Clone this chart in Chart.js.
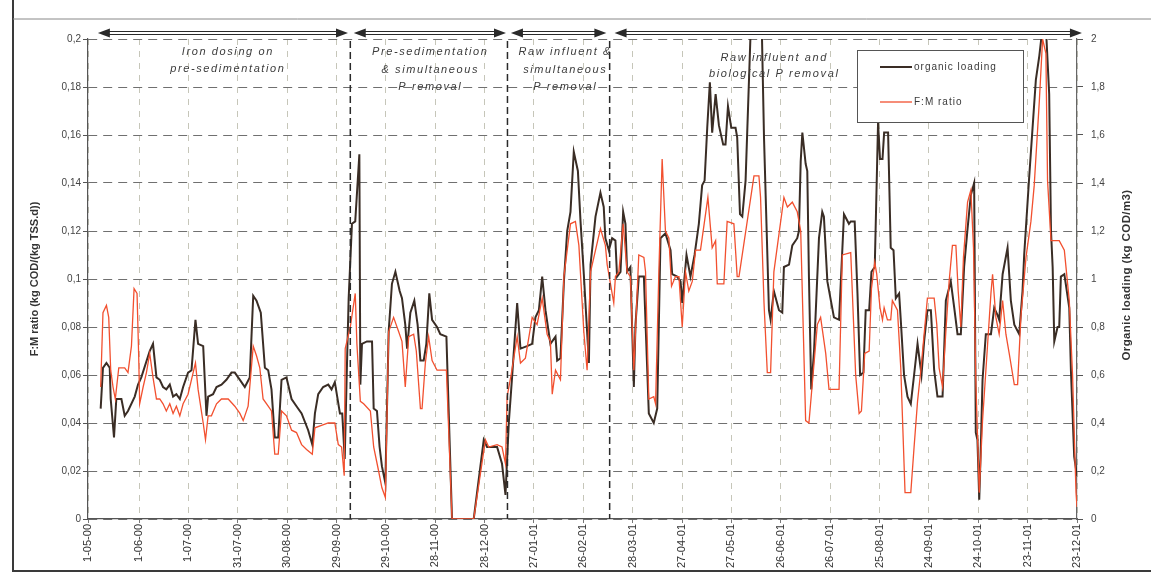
<!DOCTYPE html>
<html><head><meta charset="utf-8">
<script src="https://cdn.jsdelivr.net/npm/chart.js@4.4.1/dist/chart.umd.min.js"></script>
<style>html,body{margin:0;padding:0;background:#fff}canvas{display:block}</style>
</head><body>
<canvas id="c" width="1151" height="579"></canvas>
<script>
// x values are days since 1-05-00
const tickDays = [0,31,61,91,121,151,181,211,241,271,301,331,361,391,421,451,481,511,541,571,601];
const tickLabels = ['1-05-00','1-06-00','1-07-00','31-07-00','30-08-00','29-09-00','29-10-00','28-11-00','28-12-00','27-01-01','26-02-01','28-03-01','27-04-01','27-05-01','26-06-01','26-07-01','25-08-01','24-09-01','24-10-01','23-11-01','23-12-01'];

// organic loading (kg COD/m3), right axis
const olDays = [7.7,9.1,11.2,13.2,13.8,15.8,17.2,20.3,22.3,24.3,28.4,30.4,32.4,37.5,39.5,41.6,43.6,45.6,47.6,49.7,51.7,53.7,55.8,57.8,60.8,62.9,65.3,66.9,70.0,72.0,73.0,76.0,78.1,81.1,84.1,87.2,89.2,92.3,95.3,98.3,100.4,102.4,105.0,107.5,109.5,111.5,113.5,115.6,117.6,120.6,123.7,126.7,129.8,133.8,136.3,137.9,139.9,142.9,146.0,148.0,150.0,153.1,154.5,156.0,157.4,158.4,160.4,162.4,164.9,165.5,166.5,169.5,172.6,173.6,175.6,177.2,178.6,180.7,182.7,184.7,186.8,189.4,190.8,192.8,193.9,195.9,198.3,200.3,202.0,204.0,205.6,207.4,209.1,212.1,214.1,217.8,221.2,234.4,240.5,242.5,248.6,251.6,253.7,255.7,257.7,260.8,262.8,266.8,269.9,271.9,274.0,276.0,278.0,281.0,284.1,285.1,287.1,289.2,291.2,293.2,295.2,297.7,299.3,301.3,303.3,304.4,305.4,308.4,311.4,313.4,314.4,316.5,318.5,320.5,321.5,323.6,325.2,326.6,327.6,329.6,331.7,332.7,334.7,337.8,340.8,343.8,345.9,347.9,350.9,354.0,355.0,358.0,360.1,361.1,363.7,366.1,368.6,371.2,373.2,374.7,376.3,377.9,379.3,381.4,383.4,386.0,387.4,388.9,390.9,393.5,394.5,396.2,397.6,399.6,403.5,409.0,410.8,413.8,414.8,416.8,419.9,421.9,422.9,426.0,428.0,431.0,432.0,433.1,434.1,436.1,437.1,438.1,439.5,441.2,444.2,446.2,447.2,449.3,453.3,456.4,459.4,462.4,463.5,465.9,467.6,469.2,471.2,472.6,474.7,476.1,478.1,480.1,481.3,482.8,483.8,486.2,487.8,489.5,490.9,492.9,493.9,495.9,498.0,500.0,502.0,504.1,506.5,508.1,510.1,512.2,514.2,516.2,519.3,521.3,524.3,526.4,528.4,530.4,532.4,534.5,536.5,538.5,539.5,540.5,541.6,542.6,543.6,545.6,548.7,550.7,552.7,553.7,555.8,558.8,560.8,562.9,565.9,567.9,568.9,572.0,574.0,576.0,578.1,580.1,582.1,584.1,585.2,586.2,587.2,589.2,590.2,591.2,593.3,596.3,597.3,599.3,601.0];
const olValues = [0.46,0.63,0.65,0.63,0.50,0.34,0.50,0.50,0.43,0.45,0.51,0.56,0.59,0.70,0.73,0.59,0.58,0.55,0.54,0.56,0.51,0.52,0.50,0.55,0.61,0.62,0.83,0.73,0.72,0.43,0.51,0.52,0.55,0.56,0.58,0.61,0.61,0.58,0.55,0.59,0.93,0.91,0.86,0.63,0.62,0.54,0.34,0.34,0.58,0.59,0.50,0.47,0.44,0.37,0.31,0.44,0.52,0.55,0.56,0.54,0.57,0.44,0.44,0.25,0.65,0.92,1.23,1.24,1.52,0.56,0.73,0.74,0.74,0.46,0.45,0.30,0.22,0.15,0.78,0.98,1.03,0.95,0.92,0.81,0.71,0.86,0.91,0.81,0.66,0.66,0.73,0.94,0.83,0.80,0.77,0.76,0.0,0.0,0.33,0.30,0.30,0.23,0.10,0.40,0.59,0.90,0.71,0.72,0.73,0.84,0.87,1.01,0.87,0.73,0.76,0.66,0.67,0.99,1.20,1.28,1.53,1.45,1.24,1.02,0.78,0.65,1.06,1.26,1.36,1.30,1.17,1.12,1.17,1.16,1.01,1.03,1.28,1.23,1.03,1.05,0.55,0.81,1.01,1.01,0.44,0.40,0.46,1.17,1.19,1.12,1.02,1.01,0.99,0.90,1.10,1.01,1.10,1.23,1.39,1.41,1.63,1.82,1.61,1.77,1.64,1.56,1.56,1.72,1.63,1.63,1.59,1.27,1.26,1.41,2.20,2.20,1.59,0.87,0.83,0.95,0.87,0.86,1.05,1.06,1.14,1.17,1.20,1.49,1.61,1.48,1.45,1.01,0.54,0.70,1.17,1.28,1.26,0.99,0.84,0.83,1.27,1.23,1.24,1.24,0.94,0.60,0.61,0.87,0.87,1.03,1.05,1.65,1.50,1.50,1.61,1.61,1.13,1.12,0.92,0.94,0.83,0.60,0.51,0.48,0.60,0.73,0.60,0.74,0.87,0.87,0.62,0.51,0.51,0.91,0.99,0.88,0.77,0.77,1.05,1.21,1.35,1.40,0.36,0.33,0.08,0.31,0.58,0.77,0.77,0.88,0.85,0.83,1.02,1.13,0.91,0.81,0.77,0.95,1.10,1.43,1.63,1.83,1.93,2.05,2.05,1.77,1.20,1.05,0.74,0.80,0.80,1.01,1.02,0.88,0.62,0.26,0.18];

// F:M ratio (kg COD/(kg TSS.d)), left axis
const fmDays = [7.7,9.1,11.2,12.6,13.8,15.2,16.6,18.7,22.3,24.3,26.4,28.0,29.8,30.8,31.4,33.5,35.5,37.5,39.5,41.6,43.6,45.6,47.6,49.7,51.7,53.7,55.8,57.8,60.8,63.9,65.3,66.9,70.0,71.4,73.0,75.0,78.1,81.1,85.2,89.2,92.3,94.3,97.3,100.4,102.4,104.4,106.4,109.5,111.5,113.5,115.6,117.6,120.6,123.7,126.7,129.8,132.8,136.3,137.9,141.9,146.0,150.0,152.1,154.1,155.7,156.3,159.4,162.4,163.4,165.5,167.5,171.6,173.6,176.6,178.6,180.7,182.7,185.7,188.8,190.8,192.8,194.9,197.9,199.5,202.0,203.0,205.0,207.0,209.1,212.1,217.8,221.2,234.4,241.5,243.5,248.6,251.6,253.7,254.7,257.1,260.8,262.8,265.8,269.9,272.9,276.0,279.0,281.0,282.1,284.1,287.1,289.2,293.2,296.2,298.3,301.3,303.3,305.4,311.4,314.4,315.5,319.5,320.5,322.6,325.2,327.6,329.6,331.7,334.7,337.8,338.8,340.8,343.8,344.9,346.9,348.9,350.9,353.0,354.6,357.0,359.1,361.1,363.1,365.1,367.2,369.2,372.2,376.7,379.3,381.4,382.4,386.4,388.4,392.5,394.5,395.6,404.7,407.7,408.7,410.8,412.8,414.8,416.8,422.9,425.0,428.0,431.0,433.1,436.1,438.1,443.2,445.2,448.3,450.3,456.4,458.4,463.5,466.5,468.6,470.0,472.0,474.7,476.1,478.1,479.3,481.3,482.8,483.8,485.8,487.8,488.8,491.9,493.9,494.9,496.5,500.0,502.0,504.1,506.1,508.1,510.1,514.2,515.8,517.2,519.3,521.3,523.3,525.3,527.4,528.8,530.4,532.0,534.5,536.5,538.1,539.5,541.6,543.6,546.6,548.7,549.7,551.7,553.7,555.8,557.8,559.8,562.9,564.9,566.9,570.0,573.0,575.0,578.1,580.1,582.1,583.1,585.2,590.2,593.3,596.3,598.3,600.4,601.0];
const fmValues = [0.055,0.086,0.089,0.084,0.062,0.055,0.050,0.063,0.063,0.061,0.072,0.096,0.094,0.068,0.048,0.055,0.061,0.069,0.059,0.050,0.050,0.048,0.045,0.048,0.044,0.047,0.043,0.048,0.052,0.061,0.065,0.054,0.040,0.033,0.043,0.043,0.048,0.050,0.050,0.047,0.044,0.041,0.047,0.072,0.068,0.063,0.050,0.047,0.045,0.027,0.027,0.045,0.043,0.037,0.036,0.031,0.029,0.027,0.038,0.039,0.040,0.040,0.031,0.030,0.018,0.071,0.080,0.094,0.073,0.049,0.048,0.045,0.030,0.020,0.013,0.009,0.078,0.084,0.078,0.074,0.055,0.076,0.077,0.070,0.046,0.046,0.065,0.076,0.066,0.062,0.062,0.0,0.0,0.033,0.030,0.031,0.030,0.023,0.051,0.060,0.076,0.065,0.067,0.084,0.081,0.092,0.077,0.074,0.052,0.062,0.058,0.101,0.123,0.124,0.114,0.078,0.062,0.103,0.121,0.114,0.106,0.090,0.101,0.103,0.123,0.103,0.101,0.062,0.110,0.109,0.103,0.050,0.051,0.048,0.103,0.150,0.120,0.117,0.097,0.101,0.101,0.080,0.103,0.095,0.099,0.112,0.112,0.134,0.113,0.116,0.098,0.098,0.124,0.123,0.101,0.101,0.143,0.143,0.134,0.090,0.061,0.061,0.103,0.134,0.130,0.132,0.128,0.120,0.041,0.040,0.081,0.084,0.069,0.054,0.054,0.110,0.111,0.060,0.044,0.045,0.069,0.070,0.096,0.107,0.102,0.088,0.083,0.088,0.083,0.083,0.091,0.087,0.063,0.043,0.011,0.011,0.030,0.049,0.062,0.077,0.092,0.092,0.081,0.063,0.055,0.078,0.099,0.114,0.114,0.095,0.080,0.109,0.132,0.137,0.113,0.058,0.011,0.041,0.072,0.094,0.102,0.084,0.077,0.091,0.077,0.069,0.056,0.056,0.084,0.109,0.124,0.139,0.174,0.200,0.194,0.141,0.116,0.116,0.112,0.091,0.060,0.011,0.005];

// treatment phases (days)
const phaseBounds = [159.4, 254.9, 317.0];
const phaseArrows = [[6,158],[161.5,254],[257,315],[320,604]];
const phaseTexts = [
  {day: 85, lines: ['Iron dosing on','pre-sedimentation'], y: [52,69]},
  {day: 208, lines: ['Pre-sedimentation','& simultaneous','P removal'], y: [52,70,87]},
  {day: 290, lines: ['Raw influent &','simultaneous','P removal'], y: [52,70,87]},
  {day: 417, lines: ['Raw influent and','biological P removal'], y: [58,74]}
];

const FONT = "'Liberation Sans', Arial, sans-serif";
const olColor = '#3a2d25', fmColor = '#f2502f';

const annot = {
  id: 'annot',
  beforeDraw(chart) {
    const ctx = chart.ctx;
    ctx.save();
    ctx.strokeStyle = '#3a3a3a'; ctx.lineWidth = 2;
    ctx.beginPath(); ctx.moveTo(13, 0); ctx.lineTo(13, 571); ctx.lineTo(1151, 571); ctx.stroke();
    ctx.strokeStyle = '#888'; ctx.lineWidth = 1;
    ctx.beginPath(); ctx.moveTo(13, 19); ctx.lineTo(1151, 19); ctx.stroke();
    ctx.restore();
  },
  afterDatasetsDraw(chart) {
    const {ctx, chartArea: {top, bottom}, scales: {x}} = chart;
    ctx.save();
    ctx.setLineDash([7, 4]); ctx.strokeStyle = '#2a2a2a'; ctx.lineWidth = 1.5;
    phaseBounds.forEach(d => {
      const px = x.getPixelForValue(d);
      ctx.beginPath(); ctx.moveTo(px, top + 2); ctx.lineTo(px, bottom); ctx.stroke();
    });
    ctx.setLineDash([]);
    const ay = top - 6;
    ctx.strokeStyle = '#2a2a2a'; ctx.fillStyle = '#2a2a2a'; ctx.lineWidth = 1;
    phaseArrows.forEach(([a, b]) => {
      const x1 = x.getPixelForValue(a), x2 = x.getPixelForValue(b);
      ctx.beginPath();
      ctx.moveTo(x1 + 8, ay - 1.5); ctx.lineTo(x2 - 8, ay - 1.5);
      ctx.moveTo(x1 + 8, ay + 1.5); ctx.lineTo(x2 - 8, ay + 1.5);
      ctx.stroke();
      ctx.beginPath(); ctx.moveTo(x1, ay); ctx.lineTo(x1 + 12, ay - 4.5); ctx.lineTo(x1 + 12, ay + 4.5); ctx.closePath(); ctx.fill();
      ctx.beginPath(); ctx.moveTo(x2, ay); ctx.lineTo(x2 - 12, ay - 4.5); ctx.lineTo(x2 - 12, ay + 4.5); ctx.closePath(); ctx.fill();
    });
    ctx.fillStyle = '#3c3c3c';
    ctx.font = 'italic 11px ' + FONT;
    ctx.letterSpacing = '1.6px';
    ctx.textAlign = 'center'; ctx.textBaseline = 'middle';
    phaseTexts.forEach(t => {
      const px = x.getPixelForValue(t.day);
      t.lines.forEach((s, i) => ctx.fillText(s, px, t.y[i]));
    });
    ctx.restore();
  },
  afterDraw(chart) {
    const ctx = chart.ctx;
    const {top, bottom} = chart.chartArea;
    ctx.save();
    ctx.translate(1127, (top + bottom) / 2 - 4);
    ctx.rotate(-Math.PI / 2);
    ctx.font = 'bold 11.5px ' + FONT; ctx.fillStyle = '#333';
    ctx.letterSpacing = '0.4px';
    ctx.textAlign = 'center'; ctx.textBaseline = 'middle';
    ctx.fillText('Organic loading (kg COD/m3)', 0, 0);
    ctx.restore();
    ctx.save();
    const bx = 857, by = 50, bw = 166, bh = 72;
    ctx.fillStyle = '#fff'; ctx.fillRect(bx, by, bw, bh);
    ctx.strokeStyle = '#555'; ctx.lineWidth = 1; ctx.strokeRect(bx + 0.5, by + 0.5, bw, bh);
    ctx.font = '10px ' + FONT; ctx.letterSpacing = '1px';
    ctx.textBaseline = 'middle'; ctx.textAlign = 'left';
    chart.data.datasets.forEach((ds, i) => {
      const ly = by + 17 + i * 35;
      ctx.strokeStyle = ds.borderColor; ctx.lineWidth = ds.borderWidth;
      ctx.beginPath(); ctx.moveTo(bx + 23, ly); ctx.lineTo(bx + 55, ly); ctx.stroke();
      ctx.fillStyle = '#3a3a3a';
      ctx.fillText(ds.label, bx + 57, ly);
    });
    ctx.restore();
  }
};

new Chart(document.getElementById('c'), {
  type: 'line',
  data: {
    datasets: [
      {label: 'organic loading', data: olDays.map((d, i) => ({x: d, y: olValues[i]})), yAxisID: 'y2',
       borderColor: olColor, borderWidth: 2, pointRadius: 0, tension: 0, order: 2},
      {label: 'F:M ratio', data: fmDays.map((d, i) => ({x: d, y: fmValues[i]})), yAxisID: 'y',
       borderColor: fmColor, borderWidth: 1.3, pointRadius: 0, tension: 0, order: 1}
    ]
  },
  options: {
    responsive: false, animation: false, maintainAspectRatio: false,
    layout: {padding: {top: 39, left: 0, right: 0, bottom: 0}},
    plugins: {legend: {display: false}, tooltip: {enabled: false}},
    scales: {
      x: {
        type: 'linear', min: 0, max: 601,
        afterBuildTicks: s => { s.ticks = tickDays.map(v => ({value: v})); },
        ticks: {autoSkip: false, maxRotation: 90, minRotation: 90, padding: 1,
                callback: (v, i) => tickLabels[i], font: {size: 11, family: FONT}, color: '#333'},
        grid: {color: '#b8b8a8', lineWidth: 0.8, tickLength: 4, tickColor: '#555'},
        border: {display: true, color: '#555', width: 1.2, dash: [6, 6]},
        afterFit: s => { s.height = 60; }
      },
      y: {
        position: 'left', min: 0, max: 0.2,
        ticks: {stepSize: 0.02, padding: 2, font: {size: 10, family: FONT}, color: '#444',
                callback: v => String(Math.round(v * 100) / 100).replace('.', ',')},
        grid: {color: '#707070', lineWidth: 1, tickLength: 5, tickColor: '#555'},
        border: {color: '#555', width: 1.2, dash: [9, 6]},
        title: {display: true, text: 'F:M ratio (kg COD/(kg TSS.d))', color: '#333',
                font: {size: 11, weight: 'bold', family: FONT}, padding: {top: 28, bottom: 0}},
        afterFit: s => { s.width = 88; }
      },
      y2: {
        position: 'right', min: 0, max: 2,
        ticks: {stepSize: 0.2, padding: 8, font: {size: 10, family: FONT}, color: '#444',
                callback: v => String(Math.round(v * 10) / 10).replace('.', ',')},
        grid: {drawOnChartArea: false, tickLength: 6, tickColor: '#555'},
        border: {color: '#666', width: 1.2},
        afterFit: s => { s.width = 74; }
      }
    }
  },
  plugins: [annot]
});
</script>
</body></html>
